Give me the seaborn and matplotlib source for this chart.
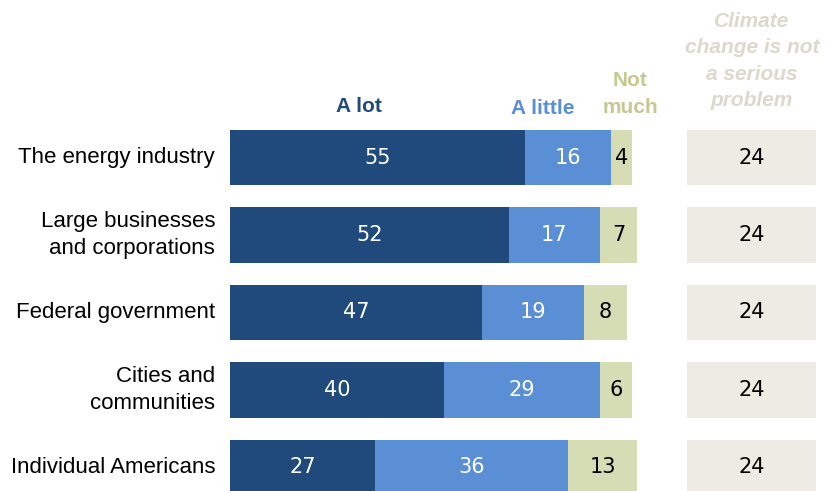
import matplotlib
matplotlib.use("Agg")
import matplotlib.pyplot as plt
import seaborn as sns
import pandas as pd
import numpy as np

categories = ["The energy industry", "Large businesses\nand corporations",
              "Federal government", "Cities and\ncommunities", "Individual Americans"]
a_lot = [55, 52, 47, 40, 27]
a_little = [16, 17, 19, 29, 36]
not_much = [4, 7, 8, 6, 13]
not_serious = [24, 24, 24, 24, 24]

C_LOT = "#204a7c"
C_LITTLE = "#5b8fd5"
C_NOT = "#d6dcb3"
C_BOX = "#edebe3"
T_NOT = "#c3c990"
T_BOX = "#dcd9cc"

sns.set_theme(style="white")
plt.rcParams['font.family'] = ['Liberation Sans', 'DejaVu Sans']

df = pd.DataFrame({"cat": categories, "lot": a_lot, "little": a_little, "not": not_much,
                   "ns": not_serious})
df["c2"] = df["lot"] + df["little"]
df["c3"] = df["c2"] + df["not"]

W, H = 830, 491
fig = plt.figure(figsize=(W / 100, H / 100), dpi=100)
ax = fig.add_axes([230 / W, 0, 600 / W, 1])
px = 5.36
bh = 0.71

for col, colr in [("c3", C_NOT), ("c2", C_LITTLE), ("lot", C_LOT)]:
    sns.barplot(data=df, x=col, y="cat", order=categories, color=colr, orient="h",
                width=bh, linewidth=0, saturation=1, ax=ax)

box_left = 85.3
ax.barh(np.arange(len(categories)), df["ns"], left=box_left, height=bh, color=C_BOX, linewidth=0)

ax.set_xlim(0, 600 / px)
y0 = (491 - 157.5) / 77.5
y1 = (0 - 157.5) / 77.5
ax.set_ylim(y0, y1)
ax.axis("off")

fs_num = 15
fs_cat = 16
fs_head = 15
numfont = ["DejaVu Sans"]
for i in range(len(categories)):
    l, li, n = a_lot[i], a_little[i], not_much[i]
    ax.text(l / 2, i, str(l), ha="center", va="center", color="white", fontsize=fs_num,
            family=numfont)
    ax.text(l + li / 2, i, str(li), ha="center", va="center", color="white", fontsize=fs_num,
            family=numfont)
    ax.text(l + li + n / 2, i, str(n), ha="center", va="center", color="black", fontsize=fs_num,
            family=numfont)
    ax.text(box_left + not_serious[i] / 2, i, str(not_serious[i]), ha="center", va="center",
            color="black", fontsize=fs_num, family=numfont)
    ax.text(-15 / px, i, categories[i], ha="right", va="center", color="black", fontsize=fs_cat,
            linespacing=1.38)

def ypx(p):
    return (p - 157.5) / 77.5

ax.text((359 - 230) / px, ypx(107), "A lot", ha="center", va="center", color=C_LOT,
        fontsize=fs_head, fontweight="bold")
ax.text((543 - 230) / px, ypx(108), "A little", ha="center", va="center", color=C_LITTLE,
        fontsize=fs_head, fontweight="bold")
ax.text((630 - 230) / px, ypx(94), "Not\nmuch", ha="center", va="center", color=T_NOT,
        fontsize=fs_head, fontweight="bold", linespacing=1.5)
ax.text((752 - 230) / px, ypx(61), "Climate\nchange is not\na serious\nproblem", ha="center",
        va="center", color=T_BOX, fontsize=fs_head, fontweight="bold", fontstyle="italic",
        linespacing=1.5)

fig.savefig("out.png", dpi=100)
